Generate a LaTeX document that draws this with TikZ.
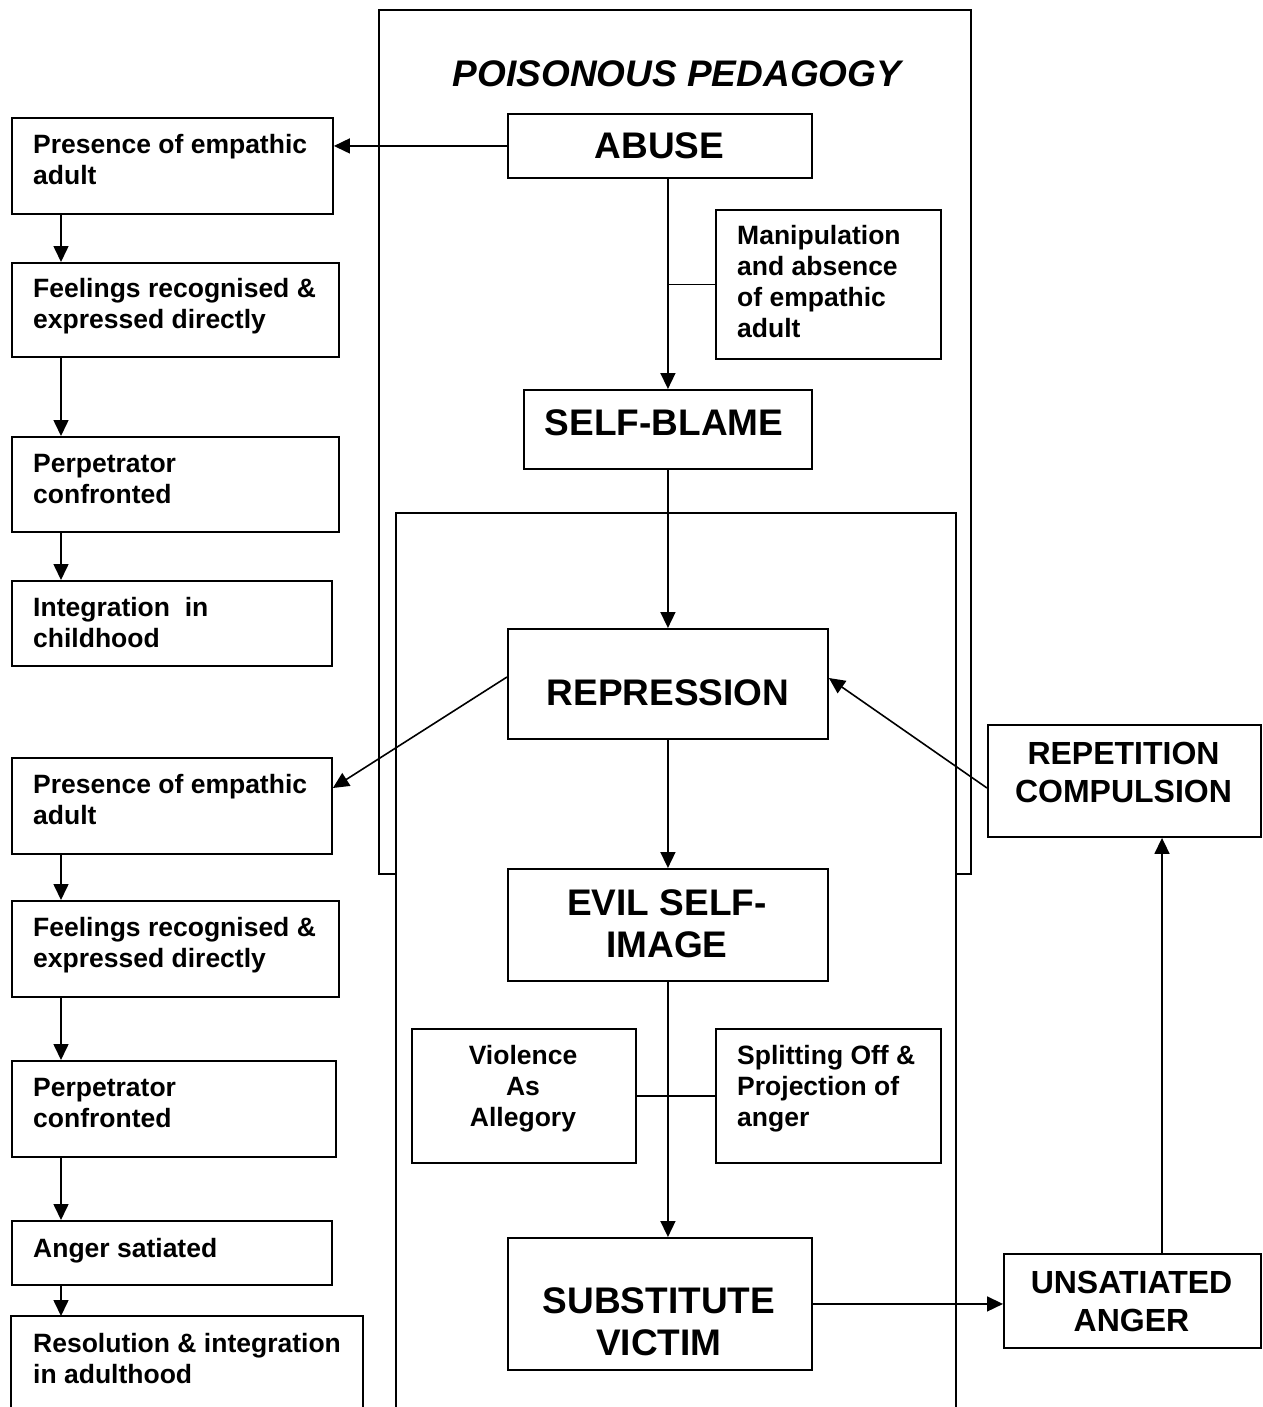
\documentclass[tikz,border=0pt]{standalone}
\usepackage{fontspec}
\setmainfont{Liberation Sans}
\usetikzlibrary{arrows.meta}
\newcommand\smallf{\fontsize{26.5}{31}\selectfont\bfseries}
\newcommand\bigf{\fontsize{37}{42}\selectfont\bfseries}
\newcommand\midf{\fontsize{32}{38}\selectfont\bfseries}
\tikzset{
  box/.style={draw, line width=1.9pt, fill=white, rectangle, inner sep=0pt, anchor=north west},
  conn/.style={line width=1.6pt, -{Triangle[length=16pt,width=15pt]}},
  plain/.style={line width=1.6pt},
  ltext/.style={inner sep=0pt, anchor=base west, align=left, font=\smallf},
  ctext/.style={inner sep=0pt, anchor=base, align=center},
}
\newcommand\boxat[5]{\node[box, minimum width=#4-#2, minimum height=#5-#3] (#1) at (#2,#3) {};}
\begin{document}
\begin{tikzpicture}[x=1pt,y=-1pt]
\useasboundingbox[fill=white] (0,0) rectangle (1262,1407);
% frames
\draw[line width=1.9pt] (379,874) -- (379,10) -- (971,10) -- (971,874) -- cycle;
\fill[white] (396,513) rectangle (956,1420);
\draw[line width=1.9pt] (396,1420) -- (396,513) -- (956,513) -- (956,1420);
\node[ctext, font=\bigf\itshape] (title) at (677,86.2) {POISONOUS PEDAGOGY};
% center boxes
\boxat{abuse}{507}{113}{811}{177}
\boxat{blame}{523}{389}{811}{468}
\boxat{manip}{715}{209}{940}{358}
\boxat{repr}{507}{628}{827}{738}
\boxat{evil}{507}{868}{827}{980}
\boxat{viol}{411}{1028}{635}{1162}
\boxat{split}{715}{1028}{940}{1162}
\boxat{subst}{507}{1237}{811}{1369}
\boxat{unsat}{1003}{1253}{1260}{1347}
\boxat{repet}{987}{724}{1260}{836}
% left boxes
\boxat{pa}{11}{117}{332}{213}
\boxat{fa}{11}{262}{338}{356}
\boxat{ca}{11}{436}{338}{531}
\boxat{ia}{11}{580}{331}{665}
\boxat{pb}{11}{757}{331}{853}
\boxat{fb}{11}{900}{338}{996}
\boxat{cb}{11}{1060}{335}{1156}
\boxat{ab}{11}{1220}{331}{1284}
\draw[line width=1.9pt] (11,1420) -- (11,1316) -- (363,1316) -- (363,1420);
\coordinate (rb) at (61,1316);
% helper coordinates
\coordinate (lx) at (61,0);
\coordinate (rx) at (1162,0);
\coordinate (ya) at (0,788);
\coordinate (yb) at (0,678);
\coordinate (yc) at (0,677);
% texts (base = baseline of last line)
\node[ctext, font=\bigf] (tabuse) at (659.5,158.2) {ABUSE};
\node[ctext, font=\bigf] (tblame) at (664,435.2) {SELF-BLAME};
\node[ctext, font=\bigf] (trepr) at (668,705.2) {REPRESSION};
\node[ctext, font=\bigf] (tevil) at (667,957.2) {EVIL SELF-\\IMAGE};
\node[ctext, font=\bigf] (tsubst) at (659,1355.2) {SUBSTITUTE\\VICTIM};
\node[ctext, font=\midf] (trepet) at (1123.5,802.5) {REPETITION\\COMPULSION};
\node[ctext, font=\midf] (tunsat) at (1131.5,1331.5) {UNSATIATED\\ANGER};
\node[ltext] (tmanip) at (737,337.5) {Manipulation\\and absence\\of empathic\\adult};
\node[ltext] (tsplit) at (737,1126.5) {Splitting Off \&\\Projection of\\anger};
\node[ctext, font=\smallf] (tviol) at (523,1126.5) {Violence\\As\\Allegory};
\node[ltext] (tpa) at (33,184.5) {Presence of empathic\\adult};
\node[ltext] (tfa) at (33,328.5) {Feelings recognised \&\\expressed directly};
\node[ltext] (tca) at (33,503.5) {Perpetrator\\confronted};
\node[ltext] (tia) at (33,647.5) {Integration\ \ in\\childhood};
\node[ltext] (tpb) at (33,824.5) {Presence of empathic\\adult};
\node[ltext] (tfb) at (33,967.5) {Feelings recognised \&\\expressed directly};
\node[ltext] (tcb) at (33,1127.5) {Perpetrator\\confronted};
\node[ltext] (tab) at (33,1257.5) {Anger satiated};
\node[ltext] (trb) at (33,1383.5) {Resolution \& integration\\in adulthood};
% connectors centre
\draw[conn] (abuse.west) -- (pa.east |- abuse.west);
\draw[conn] (abuse.south -| blame.north) -- (blame.north);
\draw[plain] (blame.north |- manip.west) -- (manip.west);
\draw[conn] (blame.south) -- (blame.south |- repr.north);
\draw[conn] (repr.south) -- (evil.north);
\draw[conn] (evil.south) -- (evil.south |- subst.north);
\draw[plain] (viol.east) -- (split.west);
\draw[conn] (subst.east) -- (subst.east -| unsat.west);
\draw[conn] (unsat.north -| rx) -- (repet.south -| rx);
\draw[conn] (repet.west |- ya) -- (repr.east |- yb);
\draw[conn] (repr.west |- yc) -- (pb.east |- ya);
% connectors left
\draw[conn] (pa.south west -| lx) -- (fa.north west -| lx);
\draw[conn] (fa.south west -| lx) -- (ca.north west -| lx);
\draw[conn] (ca.south west -| lx) -- (ia.north west -| lx);
\draw[conn] (pb.south west -| lx) -- (fb.north west -| lx);
\draw[conn] (fb.south west -| lx) -- (cb.north west -| lx);
\draw[conn] (cb.south west -| lx) -- (ab.north west -| lx);
\draw[conn] (ab.south west -| lx) -- (rb);
\end{tikzpicture}
\end{document}
